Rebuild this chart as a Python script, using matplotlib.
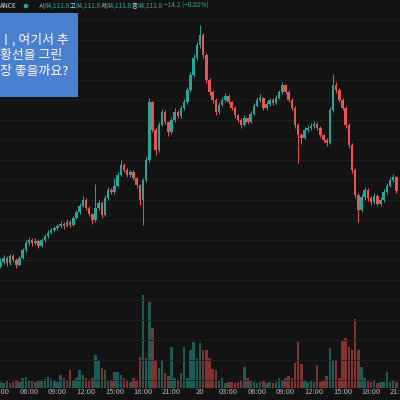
import matplotlib
matplotlib.use('Agg')
import matplotlib.pyplot as plt
import matplotlib.dates as mdates
import numpy as np
import pandas as pd

plt.rcParams['font.family'] = ['Noto Sans CJK KR', 'DejaVu Sans']

# 20-minute candles, 19 Mar 03:00 -> 20 Mar 20:40
times = pd.date_range('2025-03-19 03:00', periods=126, freq='20min')

closes = [83225, 83275, 83212, 83300, 83250, 83187, 83275, 83375, 83462, 83500,
          83462, 83487, 83425, 83500, 83550, 83587, 83625, 83650, 83675, 83700,
          83675, 83725, 83687, 83775, 83850, 83925, 84000, 83900, 83825, 83750,
          83900, 83962, 83812, 84025, 84125, 84100, 84175, 84312, 84437, 84375,
          84312, 84350, 84275, 84187, 84000, 84250, 84500, 85225, 84875, 84625,
          84937, 85100, 84975, 84850, 85000, 85100, 85050, 85150, 85225, 85375,
          85562, 85775, 85937, 86062, 85812, 85500, 85350, 85250, 85100, 85187,
          85250, 85300, 85225, 85150, 85062, 85000, 84937, 85025, 84975, 85075,
          85175, 85250, 85275, 85150, 85200, 85250, 85212, 85275, 85350, 85437,
          85350, 85250, 85150, 84937, 84812, 84775, 84875, 84900, 84925, 84950,
          84900, 84812, 84750, 84712, 85125, 85437, 85375, 85250, 85150, 84937,
          84687, 84375, 84062, 83875, 84037, 84125, 84025, 83975, 84050, 83950,
          84000, 84100, 84175, 84250, 84287, 84111.8]
first_open = 83175

highs = [83270, 83310, 83300, 83330, 83320, 83270, 83300, 83400, 83500, 83540,
         83525, 83520, 83510, 83530, 83580, 83620, 83650, 83680, 83700, 83740,
         83720, 83760, 83750, 83800, 83880, 83960, 84050, 84020, 83920, 83840,
         84200, 84000, 83990, 84060, 84160, 84150, 84275, 84350, 84500, 84460,
         84400, 84380, 84370, 84290, 84200, 84280, 84540, 85275, 85240, 84900,
         84980, 85140, 85120, 84990, 85040, 85150, 85130, 85190, 85260, 85410,
         85600, 85820, 85980, 86187, 86090, 85840, 85530, 85380, 85270, 85220,
         85290, 85340, 85320, 85240, 85170, 85080, 85020, 85060, 85040, 85110,
         85210, 85290, 85320, 85290, 85240, 85280, 85270, 85310, 85380, 85475,
         85450, 85370, 85270, 85170, 84960, 84840, 84910, 84940, 84960, 84990,
         84970, 84920, 84830, 84770, 85160, 85575, 85480, 85400, 85270, 85170,
         84960, 84710, 84400, 84090, 84080, 84160, 84150, 84050, 84090, 84070,
         84040, 84140, 84210, 84290, 84320, 84300]

lows = [83150, 83200, 83180, 83190, 83220, 83150, 83170, 83260, 83350, 83440,
        83430, 83440, 83400, 83410, 83480, 83530, 83570, 83600, 83630, 83650,
        83640, 83660, 83660, 83670, 83760, 83830, 83910, 83880, 83800, 83700,
        83730, 83880, 83780, 83800, 84000, 84070, 84080, 84160, 84300, 84350,
        84290, 84290, 84250, 84150, 83937, 83687, 84230, 84480, 84850, 84562,
        84600, 84920, 84950, 84800, 84830, 84980, 85020, 85030, 85130, 85200,
        85350, 85540, 85750, 85900, 85780, 85460, 85310, 85210, 85060, 85080,
        85170, 85230, 85200, 85120, 85030, 84970, 84900, 84920, 84950, 84960,
        85060, 85160, 85230, 85120, 85130, 85180, 85190, 85200, 85260, 85330,
        85320, 85220, 85120, 84900, 84462, 84700, 84760, 84850, 84880, 84900,
        84870, 84790, 84720, 84680, 84700, 85100, 85340, 85220, 85120, 84900,
        84650, 84340, 84020, 83725, 83850, 84000, 83990, 83940, 83950, 83920,
        83930, 83980, 84080, 84160, 84230, 84090]

volumes = [60, 50, 80, 50, 60, 80, 60, 100, 110, 80,
           70, 60, 80, 70, 90, 110, 90, 80, 60, 130,
           100, 80, 180, 80, 100, 180, 130, 100, 80, 100,
           330, 280, 200, 180, 80, 80, 160, 160, 130, 100,
           80, 60, 100, 80, 310, 930, 300, 860, 600, 280,
           200, 280, 150, 120, 410, 100, 80, 150, 410, 100,
           380, 460, 300, 450, 380, 380, 300, 190, 180, 80,
           100, 50, 60, 60, 50, 60, 80, 210, 100, 80,
           60, 50, 60, 80, 50, 60, 50, 60, 100, 80,
           100, 120, 100, 250, 460, 240, 80, 60, 80, 60,
           230, 60, 80, 120, 400, 280, 280, 100, 470, 500,
           410, 380, 690, 380, 210, 100, 80, 60, 80, 50,
           60, 60, 160, 60, 80, 60]

header_labels = ['시', '고', '저', '종']
header_value = '84,111.8'
header_change = '−14.2 (−0.02%)'
note_lines = ['ㅣ, 여기서 추', '황선을 그린', '장 좋을까요?']

bg = '#131313'
up_c = '#26a69a'
dn_c = '#ef5350'

opens = [first_open] + closes[:-1]
o = np.array(opens)
c = np.array(closes)
is_up = c >= o
colors = [up_c if u else dn_c for u in is_up]

fig = plt.figure(figsize=(4, 4), dpi=100, facecolor=bg)
ax_v = fig.add_axes([0, 12 / 400, 1, 388 / 400])
ax = fig.add_axes([0, 0, 1, 1], sharex=ax_v)
ax_v.set_zorder(0)
ax.set_zorder(1)
ax.patch.set_alpha(0)
ax_v.set_facecolor(bg)

x = mdates.date2num(times)
step = x[1] - x[0]

# volume
ax_v.bar(x, volumes, width=step * 0.8, color=colors, alpha=0.5, linewidth=0)
ax_v.set_ylim(0, 3880)
ax_v.axis('off')

# candles
ax.vlines(x, lows, highs, colors=colors, linewidth=0.7)
body_bottom = np.minimum(o, c)
body_h = np.maximum(np.abs(c - o), 10)
ax.bar(x, body_h, bottom=body_bottom, width=step * 0.8, color=colors, linewidth=0)

ax.set_ylim(81500, 86500)
ax.set_yticks(np.arange(81750, 86500, 250))
ax.grid(axis='y', color='#1f1f1f', linewidth=0.6)
ax.set_axisbelow(True)

x0 = mdates.date2num(pd.Timestamp('2025-03-19 02:57'))
x1 = mdates.date2num(pd.Timestamp('2025-03-20 21:03'))
ax.set_xlim(x0, x1)
ax.xaxis.set_major_locator(mdates.HourLocator(byhour=range(0, 24, 3)))


def fmt(val, pos=None):
    d = mdates.num2date(val)
    if d.hour == 0:
        return str(d.day)
    return d.strftime('%H:%M')


ax.xaxis.set_major_formatter(plt.FuncFormatter(fmt))
ax.tick_params(axis='x', direction='in', length=0, pad=-9, labelsize=5.5,
               labelcolor='#b2b5be')
ax.tick_params(axis='y', left=False, labelleft=False)
for s in ax.spines.values():
    s.set_visible(False)

# header line
hy = 394 / 400
fig.text(0, hy, 'ANCE', fontsize=4.8, color='#d1d4dc', va='center', ha='left')
fig.patches.append(plt.Circle((26 / 400, hy), 2.3 / 400, transform=fig.transFigure,
                              facecolor=up_c, edgecolor='none', figure=fig))
for lbl, px in zip(header_labels, [39, 70, 101, 132]):
    fig.text(px / 400, hy, lbl, fontsize=4.7, color='#d1d4dc', va='center', ha='left')
    fig.text((px + 5.5) / 400, hy, header_value, fontsize=4.7, color=up_c,
             va='center', ha='left')
fig.text(164 / 400, hy, header_change, fontsize=4.7, color=up_c, va='center', ha='left')

# blue note box
fig.patches.append(plt.Rectangle((0, 303 / 400), 78 / 400, 84 / 400,
                                 transform=fig.transFigure, facecolor='#4b7fcf',
                                 edgecolor='none', figure=fig, zorder=5))
for k, line in enumerate(note_lines):
    fig.text(0.5 / 400, (360 - 15.5 * k) / 400, line, fontsize=9.3, color='white',
             va='center', ha='left', zorder=6)

fig.savefig('out.png', dpi=100, facecolor=bg)
